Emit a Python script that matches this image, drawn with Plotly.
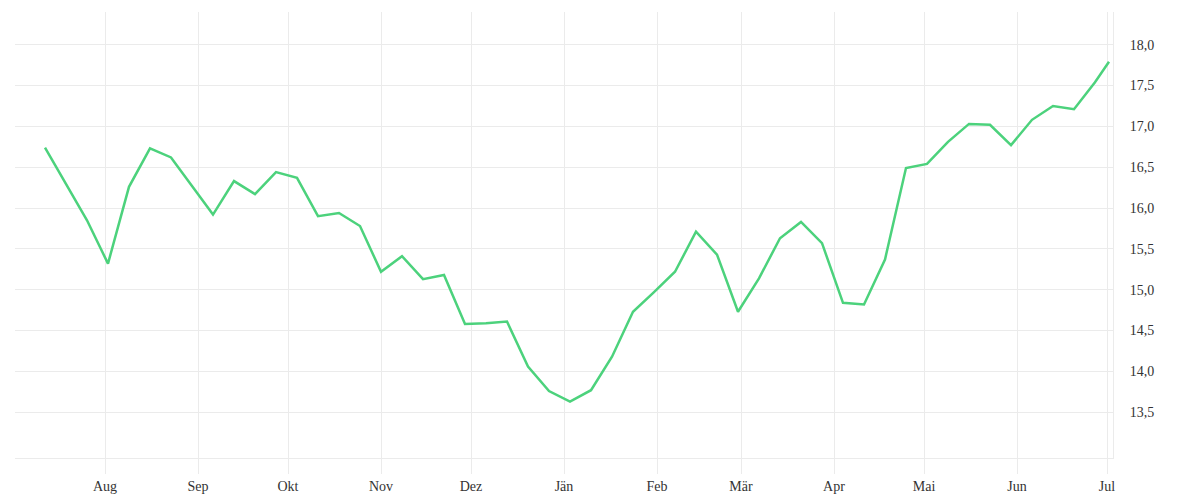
import plotly.graph_objects as go
import pandas as pd

# weekly values
start_date = "2022-07-12"
values = [16.74, 16.29, 15.85, 15.32, 16.26, 16.73, 16.62, 16.27, 15.92, 16.33,
          16.17, 16.44, 16.37, 15.90, 15.94, 15.78, 15.22, 15.41, 15.13, 15.18,
          14.58, 14.59, 14.61, 14.06, 13.76, 13.63, 13.77, 14.18, 14.73, 14.97,
          15.22, 15.71, 15.43, 14.73, 15.14, 15.63, 15.83, 15.57, 14.84, 14.82,
          15.37, 16.49, 16.54, 16.81, 17.03, 17.02, 16.77, 17.08, 17.25, 17.21,
          17.54]
last_date = "2023-07-01 16:00"
last_value = 17.79

dates = list(pd.date_range(start_date, periods=len(values), freq="7D")) + [pd.Timestamp(last_date)]
ys = values + [last_value]

month_ticks = ["2022-08-01", "2022-09-01", "2022-10-01", "2022-11-01", "2022-12-01",
               "2023-01-01", "2023-02-01", "2023-03-01", "2023-04-01", "2023-05-01",
               "2023-06-01", "2023-07-01"]
month_labels = ["Aug", "Sep", "Okt", "Nov", "Dez", "Jän", "Feb", "Mär", "Apr", "Mai", "Jun", "Jul"]
y_ticks = [13.5, 14.0, 14.5, 15.0, 15.5, 16.0, 16.5, 17.0, 17.5, 18.0]

grid = "#ebebeb"
font = dict(family="Liberation Serif", size=14, color="#333333")

fig = go.Figure()
fig.add_trace(go.Scatter(x=dates, y=ys, mode="lines",
                         line=dict(color="#4cd27c", width=2.5),
                         hoverinfo="skip", showlegend=False))

fig.update_layout(
    width=1200, height=500,
    margin=dict(l=15, r=87, t=12, b=42),
    paper_bgcolor="white", plot_bgcolor="white",
    separators=",.",
    font=font,
    xaxis=dict(range=["2022-07-02", "2023-07-03"], tickvals=month_ticks, ticktext=month_labels,
               showgrid=True, gridcolor=grid, gridwidth=1, zeroline=False,
               showline=True, linecolor=grid, linewidth=1, automargin=False,
               ticks="outside", ticklen=15, tickcolor=grid, tickwidth=1,
               tickfont=font),
    yaxis=dict(range=[12.94, 18.40], tickvals=y_ticks, tickformat=".1f", side="right",
               showgrid=True, gridcolor=grid, gridwidth=1, zeroline=False,
               showline=True, linecolor=grid, linewidth=1, mirror=False, automargin=False,
               ticks="", ticklabelstandoff=13, tickfont=font),
)

fig.write_html("out.html", config={"displayModeBar": False},
               post_script="document.body.style.margin='0';document.body.style.overflow='hidden';")
